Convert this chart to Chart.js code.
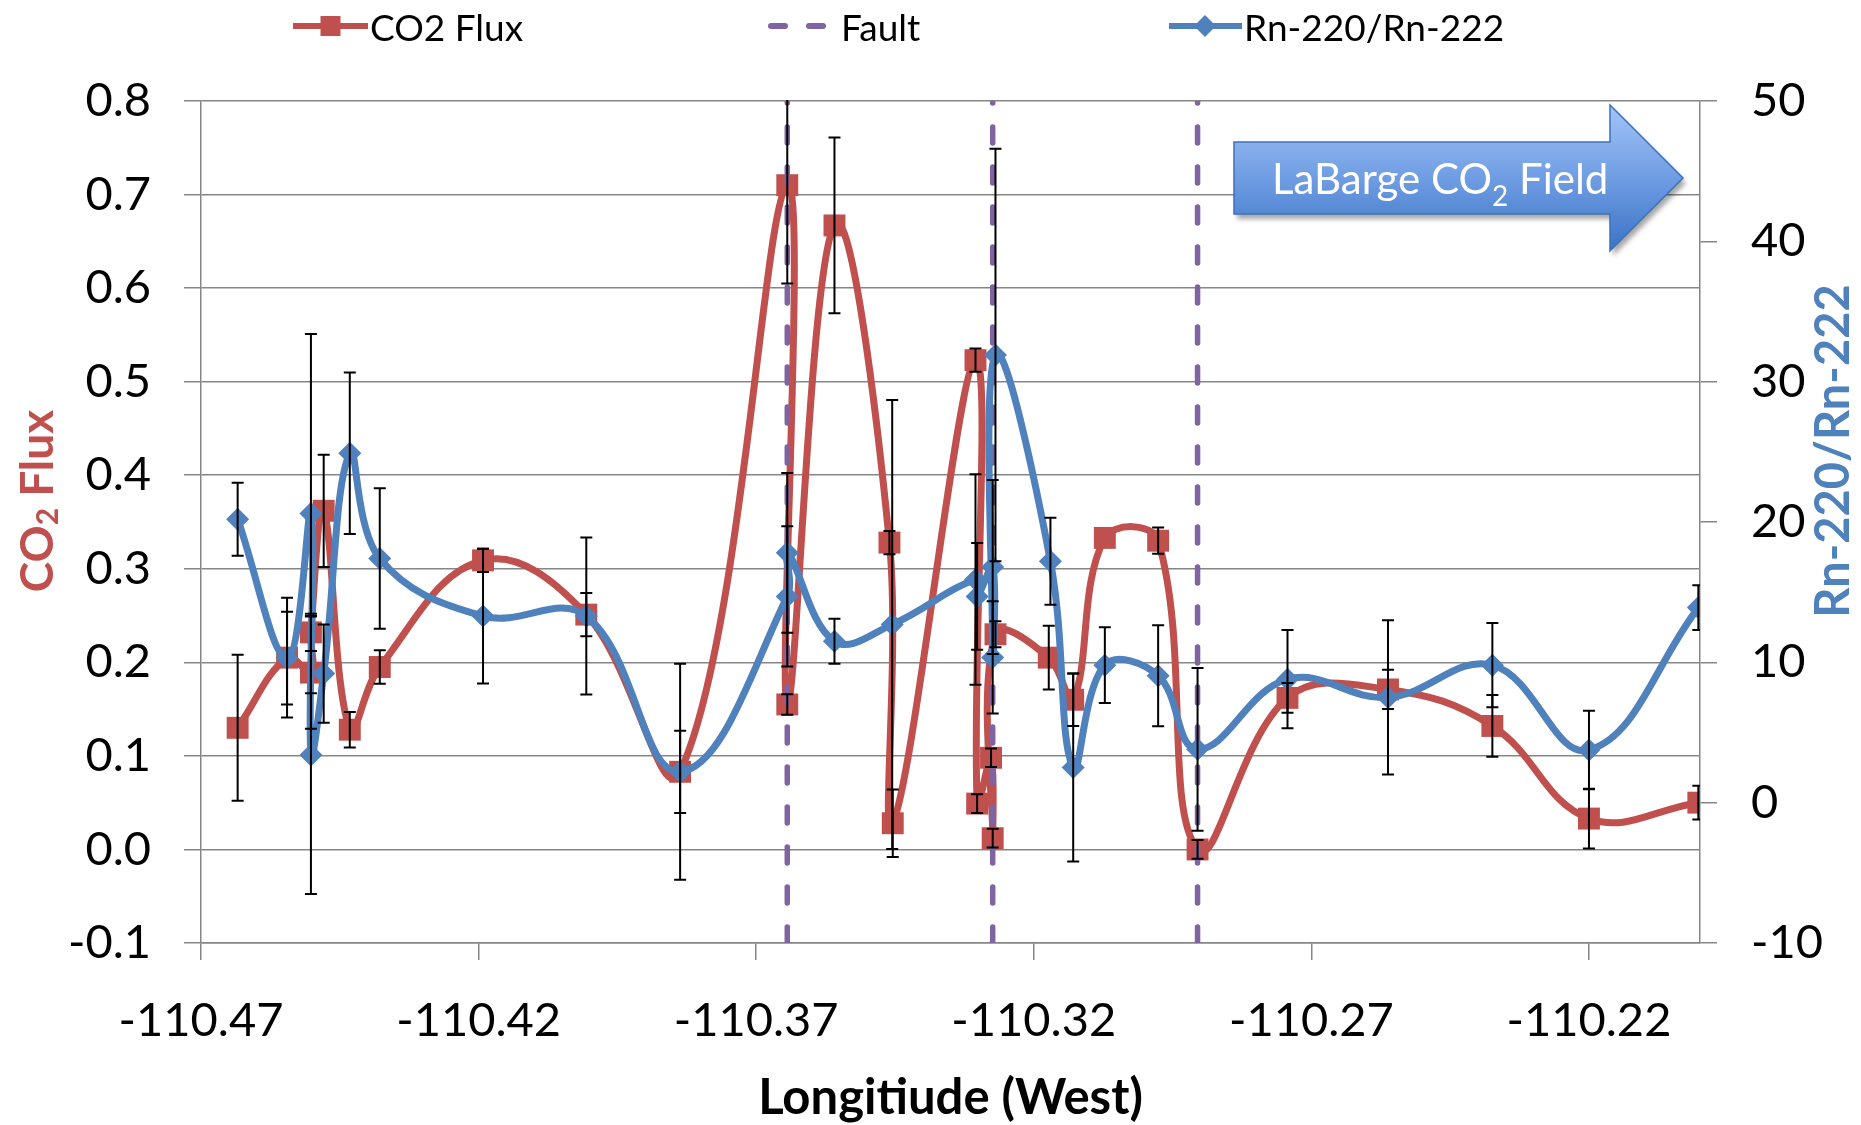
<!DOCTYPE html>
<html>
<head>
<meta charset="utf-8">
<script src="https://cdn.jsdelivr.net/npm/chart.js@4.4.1/dist/chart.umd.min.js"></script>
<style>
  body { margin: 0; background: #fff; }
  #wrap { position: relative; width: 1861px; height: 1125px; }
  .item { position: absolute; top: 0; height: 52px; display: flex; align-items: center; font: 37px Lato, sans-serif; color: #000; }
  .item svg { display: block; }
  .item span { margin-left: 2px; }
</style>
</head>
<body>
<div id="wrap">
  <canvas id="fluxChart" width="1861" height="1125"></canvas>
  <div class="item" style="left:293px">
    <svg width="75" height="52"><line x1="0" y1="26" x2="75" y2="26" stroke="#C0504D" stroke-width="6"/><rect x="27.5" y="16" width="20" height="20" fill="#C0504D"/></svg>
    <span>CO2 Flux</span>
  </div>
  <div class="item" style="left:766px">
    <svg width="73" height="52"><line x1="5" y1="26" x2="19" y2="26" stroke="#8064A2" stroke-width="6" stroke-linecap="round"/><line x1="43" y1="26" x2="57" y2="26" stroke="#8064A2" stroke-width="6" stroke-linecap="round"/></svg>
    <span>Fault</span>
  </div>
  <div class="item" style="left:1169px">
    <svg width="73" height="52"><line x1="0" y1="26" x2="73" y2="26" stroke="#4F81BD" stroke-width="6"/><polygon points="36,15 47,26 36,37 25,26" fill="#4F81BD"/></svg>
    <span>Rn-220/Rn-222</span>
  </div>
</div>
<script>
// CO2 flux points, in the order the smoothed line passes through them
const co2Lon = [-110.4634, -110.4545, -110.4502, -110.4502, -110.4479, -110.4432, -110.4378, -110.4192, -110.4006, -110.3837,
  -110.3644, -110.3644, -110.3559, -110.3460, -110.3454, -110.3305, -110.3302, -110.3277, -110.3274, -110.3269,
  -110.3173, -110.3129, -110.3072, -110.2976, -110.2905, -110.2743, -110.2562, -110.2374, -110.2200, -110.2003];
const co2Flux = [0.130, 0.205, 0.189, 0.232, 0.362, 0.128, 0.195, 0.309, 0.251, 0.083,
  0.710, 0.155, 0.667, 0.328, 0.028, 0.523, 0.049, 0.098, 0.012, 0.230,
  0.205, 0.160, 0.333, 0.330, 0.000, 0.162, 0.171, 0.132, 0.033, 0.050];
const co2Err = [0.078, 0.064, 0.060, 0.020, 0.060, 0.019, 0.018, 0.0125, 0.023, 0.044,
  0.105, 0.011, 0.094, 0.0125, 0.036, 0.0125, 0.010, 0.010, 0.010, 0.014,
  0.034, 0.028, 0, 0.014, 0.010, 0.016, 0.021, 0.033, 0.032, 0.018];

// Rn-220/Rn-222 ratio points
const rnLon = [-110.4634, -110.4545, -110.4502, -110.4502, -110.4479, -110.4432, -110.4378, -110.4192, -110.4006, -110.3837,
  -110.3644, -110.3644, -110.3559, -110.3455, -110.3305, -110.3302, -110.3274, -110.3274, -110.3269, -110.3170,
  -110.3129, -110.3072, -110.2976, -110.2905, -110.2743, -110.2562, -110.2374, -110.2200, -110.2003];
const rnRatio = [20.2, 10.3, 20.6, 3.4, 9.2, 24.9, 17.4, 13.3, 13.3, 2.2,
  14.7, 17.8, 11.5, 12.7, 15.9, 14.7, 16.8, 10.35, 31.9, 17.2,
  2.5, 9.8, 9.05, 3.8, 8.8, 7.5, 9.8, 3.75, 13.9];
const rnErr = [2.6, 3.3, 12.8, 9.9, 3.5, 5.75, 5.0, 4.8, 5.6, 7.7,
  5.0, 5.7, 1.6, 16, 7.5, 3.8, 6.2, 4.0, 14.7, 3.1,
  6.7, 2.7, 3.6, 5.8, 3.5, 5.5, 3.0, 2.8, 1.6];

// faults (vertical dashed lines)
const faultLon = [-110.3644, -110.3274, -110.2905];
const faultSpan = [-0.1, 0.8];

const lonTicks = [-110.47, -110.42, -110.37, -110.32, -110.27, -110.22];

const gridGray = '#868686';
const toPoints = (xs, ys) => xs.map((x, i) => ({ x: x, y: ys[i] }));
const faultPoints = faultLon.flatMap(x => [{ x: x, y: faultSpan[0] }, { x: x, y: faultSpan[1] }, { x: x, y: null }]);

Chart.defaults.font.family = 'Lato, sans-serif';
Chart.defaults.color = '#000';

// black error bars with caps, drawn on top of the series
const errorBars = {
  id: 'errorBars',
  afterDatasetsDraw(chart) {
    const ctx = chart.ctx;
    const area = chart.chartArea;
    ctx.save();
    ctx.beginPath();
    ctx.rect(area.left, area.top - 1, area.right - area.left, area.bottom - area.top + 2);
    ctx.clip();
    ctx.strokeStyle = '#000';
    ctx.lineWidth = 2;
    chart.data.datasets.forEach(ds => {
      if (!ds.errors) return;
      const xs = chart.scales.x;
      const ys = chart.scales[ds.yAxisID];
      ds.data.forEach((p, i) => {
        const e = ds.errors[i];
        if (!e) return;
        const px = xs.getPixelForValue(p.x);
        const top = ys.getPixelForValue(p.y + e);
        const bot = ys.getPixelForValue(p.y - e);
        ctx.beginPath();
        ctx.moveTo(px, top); ctx.lineTo(px, bot);
        ctx.moveTo(px - 6, top); ctx.lineTo(px + 6, top);
        ctx.moveTo(px - 6, bot); ctx.lineTo(px + 6, bot);
        ctx.stroke();
      });
    });
    ctx.restore();
  }
};

// text with a subscript part, centred on (0,0) of the current transform
function drawParts(ctx, parts, weight) {
  let total = 0;
  parts.forEach(p => { ctx.font = weight + ' ' + p.size + 'px Lato'; p.w = ctx.measureText(p.t).width; total += p.w; });
  let x = -total / 2;
  parts.forEach(p => {
    ctx.font = weight + ' ' + p.size + 'px Lato';
    ctx.fillText(p.t, x, p.dy || 0);
    x += p.w;
  });
}

// axis titles and the "LaBarge CO2 Field" arrow
const extras = {
  id: 'extras',
  afterDraw(chart) {
    const ctx = chart.ctx;
    const r = chart.chartArea.right;

    ctx.save();
    ctx.textBaseline = 'middle';
    ctx.translate(38, 501);
    ctx.rotate(-Math.PI / 2);
    ctx.fillStyle = '#C0504D';
    drawParts(ctx, [{ t: 'CO', size: 46 }, { t: '2', size: 30, dy: 10 }, { t: ' Flux', size: 46 }], 'bold');
    ctx.restore();

    ctx.save();
    ctx.textBaseline = 'middle';
    ctx.translate(1834, 451);
    ctx.rotate(-Math.PI / 2);
    ctx.fillStyle = '#4F81BD';
    drawParts(ctx, [{ t: 'Rn-220/Rn-222', size: 47 }], 'bold');
    ctx.restore();

    const tipX = r - 17, headX = r - 90, bodyX = r - 466;
    const midY = 178, bodyTop = 142, bodyBot = 214, headTop = 105, headBot = 251;
    ctx.save();
    ctx.beginPath();
    ctx.moveTo(bodyX, bodyTop);
    ctx.lineTo(headX, bodyTop);
    ctx.lineTo(headX, headTop);
    ctx.lineTo(tipX, midY);
    ctx.lineTo(headX, headBot);
    ctx.lineTo(headX, bodyBot);
    ctx.lineTo(bodyX, bodyBot);
    ctx.closePath();
    const grad = ctx.createLinearGradient(0, headTop, 0, headBot);
    grad.addColorStop(0, '#a3c4f8');
    grad.addColorStop(0.5, '#6f9de3');
    grad.addColorStop(1, '#3a73c4');
    ctx.fillStyle = grad;
    ctx.shadowColor = 'rgba(0,0,0,0.35)';
    ctx.shadowOffsetX = 3;
    ctx.shadowOffsetY = 5;
    ctx.shadowBlur = 5;
    ctx.fill();
    ctx.shadowColor = 'transparent';
    ctx.strokeStyle = '#3d72bb';
    ctx.lineWidth = 1.5;
    ctx.stroke();

    ctx.fillStyle = '#fff';
    ctx.textBaseline = 'alphabetic';
    let tx = bodyX + 38;
    ctx.font = '42px Lato';
    ctx.fillText('LaBarge CO', tx, 194);
    tx += ctx.measureText('LaBarge CO').width;
    ctx.font = '28px Lato';
    ctx.fillText('2', tx, 206);
    tx += ctx.measureText('2').width;
    ctx.font = '42px Lato';
    ctx.fillText(' Field', tx, 194);
    ctx.restore();
  }
};

new Chart(document.getElementById('fluxChart'), {
  type: 'scatter',
  data: {
    datasets: [{
      label: 'CO2 Flux',
      data: toPoints(co2Lon, co2Flux),
      errors: co2Err,
      yAxisID: 'y',
      showLine: true,
      tension: 0.4,
      borderColor: '#C0504D',
      backgroundColor: '#C0504D',
      borderWidth: 7,
      pointStyle: 'rect',
      pointRadius: 15.5,
      pointBorderWidth: 0,
      order: 3
    }, {
      label: 'Fault',
      data: faultPoints,
      yAxisID: 'y',
      showLine: true,
      borderColor: '#8064A2',
      borderWidth: 5.5,
      borderDash: [16, 24],
      borderCapStyle: 'round',
      pointRadius: 0,
      order: 2
    }, {
      label: 'Rn-220/Rn-222',
      data: toPoints(rnLon, rnRatio),
      errors: rnErr,
      yAxisID: 'y2',
      showLine: true,
      tension: 0.4,
      borderColor: '#4F81BD',
      backgroundColor: '#4F81BD',
      borderWidth: 7,
      pointStyle: 'rectRot',
      pointRadius: 11.5,
      pointBorderWidth: 0,
      order: 1
    }]
  },
  options: {
    responsive: false,
    animation: false,
    devicePixelRatio: 1,
    layout: { padding: { top: 101, left: 0, right: 0, bottom: 0 } },
    plugins: { legend: { display: false }, tooltip: { enabled: false } },
    scales: {
      x: {
        type: 'linear',
        min: -110.47,
        max: -110.2,
        afterBuildTicks: s => { s.ticks = lonTicks.map(v => ({ value: v })); },
        afterFit: s => { s.height = 182; },
        grid: { drawOnChartArea: false, color: gridGray, lineWidth: 1.5, tickLength: 17 },
        border: { color: gridGray, width: 1.5 },
        ticks: { font: { size: 47 }, padding: 33, maxRotation: 0, callback: v => v.toFixed(2) },
        title: { display: true, text: 'Longitiude (West)', font: { size: 49, weight: 'bold', lineHeight: 1.1 }, padding: 0 }
      },
      y: {
        position: 'left',
        min: -0.1,
        max: 0.8,
        afterFit: s => { s.width = 201; },
        grid: { color: gridGray, lineWidth: 1.5, tickLength: 17 },
        border: { color: gridGray, width: 1.5 },
        ticks: { stepSize: 0.1, font: { size: 47 }, padding: 33, callback: v => v.toFixed(1) }
      },
      y2: {
        position: 'right',
        min: -10,
        max: 50,
        afterFit: s => { s.width = 161; },
        grid: { drawOnChartArea: false, color: gridGray, lineWidth: 1.5, tickLength: 17 },
        border: { color: gridGray, width: 1.5 },
        ticks: { stepSize: 10, font: { size: 47 }, padding: 34 }
      }
    }
  },
  plugins: [errorBars, extras]
});
</script>
</body>
</html>
